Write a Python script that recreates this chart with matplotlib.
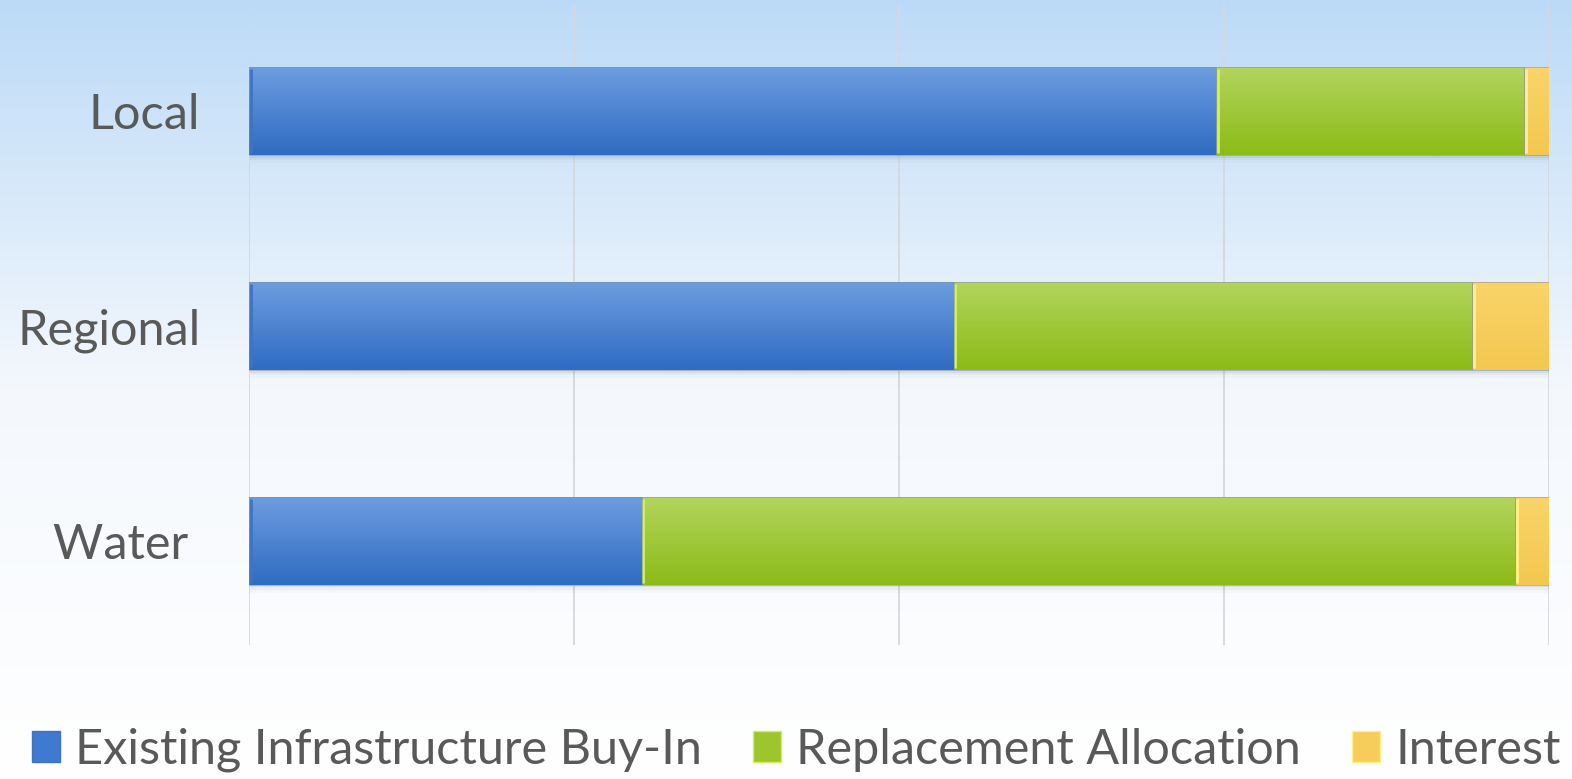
import numpy as np
import matplotlib
matplotlib.use("Agg")
import matplotlib.pyplot as plt
from matplotlib.patches import Rectangle, Patch
from matplotlib.colors import LinearSegmentedColormap

plt.rcParams['font.family'] = ['Lato', 'DejaVu Sans']

# ----------------------------------------------------------------------------
# data (percent shares)
# ----------------------------------------------------------------------------
categories = ["Water ", "Regional", "Local"]
buy_in = [30.2, 54.2, 74.4]
replacement = [67.2, 39.9, 23.7]
interest = [2.6, 5.9, 1.9]
series_names = ["Existing Infrastructure Buy-In", "Replacement Allocation", "Interest"]

# (top colour, bottom colour) of each series' gradient
series_colors = [("#6d9de0", "#2f6cc2"),
                 ("#b2d55e", "#8dbb17"),
                 ("#fad469", "#f3c850")]
legend_colors = ["#3f7ad0", "#9cc62c", "#f6cd5a"]
edge_colors = ["#3d74c4", "#d4f25a", "#fff08a"]

BAR_H = 0.41

fig = plt.figure(figsize=(15.72, 7.79), dpi=100)

# background gradient: light blue at top -> white at bottom
bg = fig.add_axes([0, 0, 1, 1], zorder=-10)
bg_cmap = LinearSegmentedColormap.from_list("bg", ["#ffffff", "#f4f8fd", "#bcdaf7"])
bg.imshow(np.linspace(0, 1, 256).reshape(-1, 1), aspect="auto", cmap=bg_cmap,
          origin="lower", extent=[0, 1, 0, 1])
bg.set_axis_off()

ax = fig.add_axes([249 / 1572, 1 - 645 / 779, (1549 - 249) / 1572, 645 / 779 - 0.005])
ax.patch.set_alpha(0)
ax.set_xlim(0, 100)
ax.set_ylim(-0.485, 2.50)

for x in [0, 25, 50, 75, 100]:
    ax.axvline(x, color="#d5d8dc", lw=1.3, zorder=0)

y = np.arange(len(categories))
left = np.zeros(len(categories))
for s, vals in enumerate([buy_in, replacement, interest]):
    top_c, bot_c = series_colors[s]
    cmap = LinearSegmentedColormap.from_list("s%d" % s, [bot_c, top_c])
    for i, v in enumerate(vals):
        # soft shadow under the bar
        for k, a in enumerate([0.10, 0.06, 0.03]):
            sh = Rectangle((left[i] + 0.1, y[i] - BAR_H / 2 - 0.012 - 0.012 * k), v,
                           BAR_H, facecolor="#5a6a80", edgecolor="none",
                           alpha=a, zorder=1)
            ax.add_patch(sh)
        rect = Rectangle((left[i], y[i] - BAR_H / 2), v, BAR_H,
                         facecolor="none", edgecolor="none", zorder=2)
        ax.add_patch(rect)
        im = ax.imshow(np.linspace(0, 1, 64).reshape(-1, 1), aspect="auto",
                       cmap=cmap, origin="lower",
                       extent=[left[i], left[i] + v, y[i] - BAR_H / 2, y[i] + BAR_H / 2],
                       zorder=2)
        im.set_clip_path(rect)
        # light bevel at the left edge of each segment
        ax.plot([left[i] + 0.12, left[i] + 0.12],
                [y[i] - BAR_H / 2 + 0.01, y[i] + BAR_H / 2 - 0.01],
                color=edge_colors[s], lw=2, zorder=3, solid_capstyle="butt")
        ax.add_patch(Rectangle((left[i], y[i] - BAR_H / 2), v, BAR_H,
                               facecolor="none", edgecolor="#7f8ea3",
                               lw=0.6, alpha=0.6, zorder=3))
    left += np.array(vals)

ax.set_yticks(y)
ax.set_yticklabels(categories, fontsize=35, color="#595959")
ax.tick_params(axis="y", length=0, pad=35)
ax.set_xticks([])
for sp in ax.spines.values():
    sp.set_visible(False)

handles = [Patch(facecolor=c, edgecolor=e, lw=1) for c, e in zip(legend_colors, edge_colors)]
fig.legend(handles, series_names, loc="center", bbox_to_anchor=(796 / 1572, 1 - 750 / 779),
           ncol=3, frameon=False, fontsize=35, labelcolor="#595959",
           handlelength=0.58, handleheight=0.62, handletextpad=0.31, columnspacing=1.05)

fig.savefig("out.png", dpi=100)
